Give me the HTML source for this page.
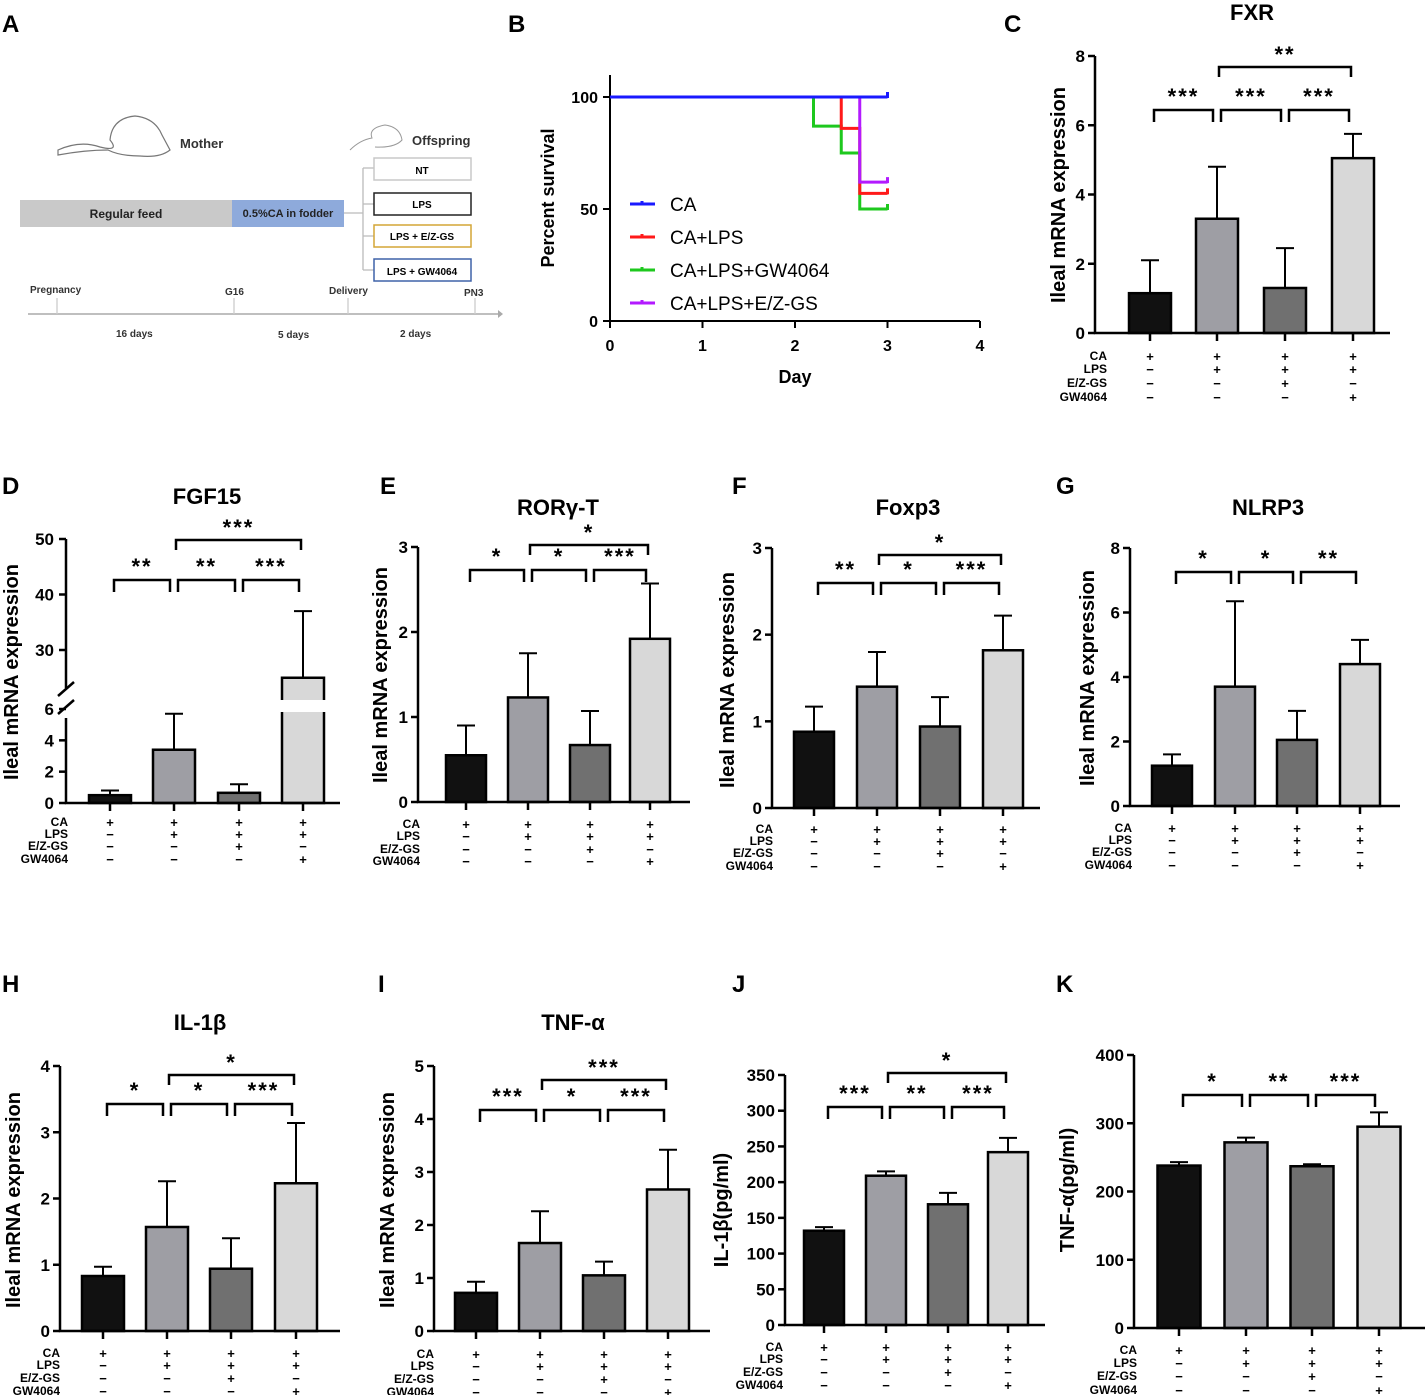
<!DOCTYPE html>
<html><head><meta charset="utf-8"><style>
html,body{margin:0;padding:0;background:#fff}
svg{display:block;font-family:"Liberation Sans",Arial,sans-serif}
</style></head><body>
<svg id="fig" width="1425" height="1395" viewBox="0 0 1425 1395" xmlns="http://www.w3.org/2000/svg">
<g font-weight="bold" font-size="24">
<text x="2" y="32">A</text><text x="508" y="32">B</text><text x="1004" y="32">C</text>
<text x="2" y="494">D</text><text x="380" y="494">E</text><text x="732" y="494">F</text><text x="1056" y="494">G</text>
<text x="2" y="992">H</text><text x="378" y="992">I</text><text x="732" y="992">J</text><text x="1056" y="992">K</text>
</g>
<!-- Panel A schematic -->
<g font-weight="bold">
<path d="M58,150 Q80,140 100,147 Q120,152 110,140 Q112,118 135,116 Q155,118 162,135 L170,150 Q160,158 140,156 Q120,156 108,150 Q85,150 58,155Z" fill="#fff" stroke="#777" stroke-width="1.2"/>
<text x="180" y="148" font-size="13" fill="#333">Mother</text>
<path d="M350,150 Q360,140 372,138 Q368,128 385,125 Q400,127 402,140 Q395,148 375,147" fill="#fff" stroke="#999"/>
<text x="412" y="145" font-size="13" fill="#333">Offspring</text>
<rect x="20" y="200" width="212" height="27" fill="#c9c9c9"/>
<text x="126" y="218" font-size="12" text-anchor="middle" fill="#222">Regular feed</text>
<rect x="232" y="200" width="112" height="27" fill="#8eaadb"/>
<text x="288" y="217" font-size="11" text-anchor="middle" fill="#222">0.5%CA in fodder</text>
<path d="M344,213 H363 M363,168 V270 M363,168 H374 M363,204 H374 M363,236 H374 M363,270 H374" stroke="#bbb" fill="none" stroke-width="1.3"/>
<rect x="374" y="158" width="97" height="22" fill="#fff" stroke="#c8c8c8" stroke-width="1.5"/><text x="422" y="174" font-size="10" text-anchor="middle">NT</text>
<rect x="374" y="193" width="97" height="22" fill="#fff" stroke="#222" stroke-width="1.5"/><text x="422" y="208" font-size="10" text-anchor="middle">LPS</text>
<rect x="374" y="225" width="97" height="22" fill="#fff" stroke="#d4a537" stroke-width="1.5"/><text x="422" y="240" font-size="10" text-anchor="middle">LPS + E/Z-GS</text>
<rect x="374" y="259" width="97" height="22" fill="#fff" stroke="#3f62a8" stroke-width="1.5"/><text x="422" y="275" font-size="10" text-anchor="middle">LPS + GW4064</text>
<path d="M28,314 H498" stroke="#aaa" stroke-width="1.5"/><path d="M498,310 L503,314 L498,318Z" fill="#aaa"/>
<path d="M57,298 V314 M234,298 V314 M348,298 V314 M475,298 V314" stroke="#ccc" stroke-width="1.3"/>
<g font-size="10" fill="#333"><text x="30" y="293">Pregnancy</text><text x="225" y="295">G16</text><text x="329" y="294">Delivery</text><text x="464" y="296">PN3</text>
<text x="116" y="337">16 days</text><text x="278" y="338">5 days</text><text x="400" y="337">2 days</text></g>
</g>
<g id="gB"></g>
<g id="gBars"></g>
</svg>
<script>
const NS="http://www.w3.org/2000/svg";
function el(p,tag,attrs,txt){const e=document.createElementNS(NS,tag);for(const k in attrs)e.setAttribute(k,attrs[k]);if(txt!==undefined)e.textContent=txt;p.appendChild(e);return e;}

// ---- Panel B survival data ----
const survSeries=["CA","CA+LPS","CA+LPS+GW4064","CA+LPS+E/Z-GS"];
const survDaysCA=[0,3];
const survValsCA=[100,100];
const survDaysLPS=[0,2.5,2.7,3];
const survValsLPS=[100,86,57,57];
const survDaysGW=[0,2.2,2.5,2.7,3];
const survValsGW=[100,87,75,50,50];
const survDaysEZ=[0,2.7,3];
const survValsEZ=[100,62,62];
const survColors=["#1a1aff","#ff1a1a","#1ec81e","#b31aff"];
const survXTicks=[0,1,2,3,4];
const survYTicks=[0,50,100];

(function(){
 const g=document.getElementById('gB');
 const X=d=>610+d*92.5, Y=v=>321-v*2.24;
 const ax=el(g,'path',{d:`M610,75 V321 H980`,stroke:'#000','stroke-width':2,fill:'none'});
 
 survXTicks.forEach(t=>{el(g,'path',{d:`M${X(t)},321 V328`,stroke:'#000','stroke-width':2});
  const tx=el(g,'text',{x:X(t),y:351,'font-size':16,'font-weight':'bold','text-anchor':'middle'},String(t));
  });
 survYTicks.forEach(t=>{el(g,'path',{d:`M603,${Y(t)} H610`,stroke:'#000','stroke-width':2});
  const tx=el(g,'text',{x:598,y:Y(t)+6,'font-size':16,'font-weight':'bold','text-anchor':'end'},String(t));
  });
 const xt=el(g,'text',{x:795,y:383,'font-size':18,'font-weight':'bold','text-anchor':'middle'},'Day');
 
 const yt=el(g,'text',{x:0,y:0,'font-size':18,'font-weight':'bold','text-anchor':'middle',transform:'translate(554,198) rotate(-90)'},'Percent survival');
 
 const all=[[survDaysGW,survValsGW],[survDaysLPS,survValsLPS],[survDaysEZ,survValsEZ],[survDaysCA,survValsCA]];
 const cols=[survColors[2],survColors[1],survColors[3],survColors[0]];
 all.forEach((s,i)=>{const [ds,vs]=s;let d=`M${X(ds[0])},${Y(vs[0])}`;
  for(let k=1;k<ds.length;k++){d+=` H${X(ds[k])} V${Y(vs[k])}`;}
  const p=el(g,'path',{d,stroke:cols[i],'stroke-width':3,fill:'none'});
  
  const e=X(ds[ds.length-1]);el(g,'path',{d:`M${e},${Y(vs[vs.length-1])-5} V${Y(vs[vs.length-1])+1}`,stroke:cols[i],'stroke-width':3});
 });
 survSeries.forEach((s,i)=>{const y=204+i*33;
  const lg=el(g,'g',{});
  el(lg,'path',{d:`M630,${y} H655 M642,${y-3} V${y}`,stroke:survColors[i],'stroke-width':3});
  el(lg,'text',{x:670,y:y+7,'font-size':19},s);});
})();

// ---- Bar panels data ----
const groups=["CA+","CA+LPS","CA+LPS+E/Z-GS","CA+LPS+GW4064"];
const rowLabels=["CA","LPS","E/Z-GS","GW4064"];
const signs=[["+","+","+","+"],["−","+","+","+"],["−","−","+","−"],["−","−","−","+"]];
const barColors=["#111111","#9e9ea4","#707070","#d8d8d8"];
const fxrVals=[1.15,3.3,1.3,5.05];   const fxrErr=[2.1,4.8,2.45,5.75];
const fgfVals=[0.5,3.4,0.65,25];     const fgfErr=[0.8,5.7,1.2,37];
const rorVals=[0.55,1.23,0.67,1.92]; const rorErr=[0.9,1.75,1.07,2.57];
const foxVals=[0.88,1.4,0.94,1.82];  const foxErr=[1.17,1.8,1.28,2.22];
const nlrVals=[1.25,3.7,2.05,4.4];   const nlrErr=[1.6,6.35,2.95,5.15];
const il1Vals=[0.83,1.57,0.94,2.23]; const il1Err=[0.97,2.26,1.4,3.14];
const tnfVals=[0.72,1.66,1.05,2.67]; const tnfErr=[0.93,2.26,1.31,3.42];
const il1pVals=[132,209,169,242];    const il1pErr=[137,215,185,262];
const tnfpVals=[238,272,237,295];    const tnfpErr=[243,279,240,316];
const fxrTicks=[0,2,4,6,8]; const fgfTicksLo=[0,2,4,6]; const fgfTicksHi=[30,40,50];
const rorTicks=[0,1,2,3]; const foxTicks=[0,1,2,3]; const nlrTicks=[0,2,4,6,8];
const il1Ticks=[0,1,2,3,4]; const tnfTicks=[0,1,2,3,4,5];
const il1pTicks=[0,50,100,150,200,250,300,350]; const tnfpTicks=[0,100,200,300,400];
const fxrSig=["***","***","***","**"]; const fgfSig=["**","**","***","***"];
const rorSig=["*","*","***","*"]; const foxSig=["**","*","***","*"]; const nlrSig=["*","*","**",""];
const il1Sig=["*","*","***","*"]; const tnfSig=["***","*","***","***"];
const il1pSig=["***","**","***","*"]; const tnfpSig=["*","**","***",""];

// layout configs (geometry only)
const panels=[
 {id:'fxr',title:'FXR',tx:1252,ty:20,ax:1095,y0:333,ytop:56,max:8,ticks:fxrTicks,vals:fxrVals,err:fxrErr,sig:fxrSig,cx:[1150,1217,1285,1353],bw:42,br1:110,br2:67,ylab:'Ileal mRNA expression',ylx:1065,yly:195,rows:[356,369,383,397],rx:1107,axEnd:1390},
 {id:'ror',title:'RORγ-T',tx:558,ty:515,ax:418,y0:802,ytop:547,max:3,ticks:rorTicks,vals:rorVals,err:rorErr,sig:rorSig,cx:[466,528,590,650],bw:40,br1:570,br2:545,ylab:'Ileal mRNA expression',ylx:387,yly:675,rows:[824,836,849,861],rx:420,axEnd:690},
 {id:'fox',title:'Foxp3',tx:908,ty:515,ax:772,y0:808,ytop:548,max:3,ticks:foxTicks,vals:foxVals,err:foxErr,sig:foxSig,cx:[814,877,940,1003],bw:40,br1:583,br2:555,ylab:'Ileal mRNA expression',ylx:734,yly:680,rows:[829,841,853,866],rx:773,axEnd:1040},
 {id:'nlr',title:'NLRP3',tx:1268,ty:515,ax:1130,y0:806,ytop:548,max:8,ticks:nlrTicks,vals:nlrVals,err:nlrErr,sig:nlrSig,cx:[1172,1235,1297,1360],bw:40,br1:572,br2:0,ylab:'Ileal mRNA expression',ylx:1094,yly:678,rows:[828,840,852,865],rx:1132,axEnd:1400},
 {id:'il1',title:'IL-1β',tx:200,ty:1030,ax:60,y0:1331,ytop:1066,max:4,ticks:il1Ticks,vals:il1Vals,err:il1Err,sig:il1Sig,cx:[103,167,231,296],bw:42,br1:1104,br2:1075,ylab:'Ileal mRNA expression',ylx:20,yly:1200,rows:[1353,1365,1378,1391],rx:60,axEnd:340},
 {id:'tnf',title:'TNF-α',tx:573,ty:1030,ax:434,y0:1331,ytop:1066,max:5,ticks:tnfTicks,vals:tnfVals,err:tnfErr,sig:tnfSig,cx:[476,540,604,668],bw:42,br1:1110,br2:1080,ylab:'Ileal mRNA expression',ylx:394,yly:1200,rows:[1354,1366,1379,1392],rx:434,axEnd:710},
 {id:'il1p',title:'',ax:785,y0:1325,ytop:1075,max:350,ticks:il1pTicks,vals:il1pVals,err:il1pErr,sig:il1pSig,cx:[824,886,948,1008],bw:40,br1:1107,br2:1073,ylab:'IL-1β(pg/ml)',ylx:728,yly:1210,rows:[1347,1359,1372,1385],rx:783,axEnd:1045},
 {id:'tnfp',title:'',ax:1134,y0:1328,ytop:1055,max:400,ticks:tnfpTicks,vals:tnfpVals,err:tnfpErr,sig:tnfpSig,cx:[1179,1246,1312,1379],bw:43,br1:1095,br2:0,ylab:'TNF-α(pg/ml)',ylx:1074,yly:1190,rows:[1350,1363,1376,1390],rx:1137,axEnd:1425}
];
const root=document.getElementById('gBars');

function drawBracketSet(g,c,sig,br1,br2){
 const pairs=[[0,1],[1,2],[2,3]];
 pairs.forEach((p,i)=>{if(!sig[i])return;const a=c[p[0]]+4,b=c[p[1]]-4;
  const br=el(g,'path',{d:`M${a},${br1+12} V${br1} H${b} V${br1+12}`,stroke:'#000','stroke-width':2.5,fill:'none'});
  
  const t=el(g,'text',{x:(a+b)/2,y:br1-6,'font-size':22,'font-weight':'bold','text-anchor':'middle','letter-spacing':2},sig[i]);
  });
 if(sig[3]&&br2){const a=c[1]+2,b=c[3]-2;
  const br=el(g,'path',{d:`M${a},${br2+10} V${br2} H${b} V${br2+10}`,stroke:'#000','stroke-width':2.5,fill:'none'});
  
  const t=el(g,'text',{x:(a+b)/2,y:br2-5,'font-size':22,'font-weight':'bold','text-anchor':'middle','letter-spacing':2},sig[3]);
  }
}
function drawRows(g,P){
 rowLabels.forEach((r,ri)=>{
  const t=el(g,'text',{x:P.rx,y:P.rows[ri]+4,'font-size':12,'font-weight':'bold','text-anchor':'end'},r);
  
  P.cx.forEach((x,ci)=>{const s=el(g,'text',{x:x,y:P.rows[ri]+5,'font-size':13,'font-weight':'bold','text-anchor':'middle'},signs[ri][ci]);
   });
 });
}
function drawBar(g,x,w,yTop,yBot,col,errY){
 el(g,'path',{d:`M${x},${errY} V${yTop} M${x-9},${errY} H${x+9}`,stroke:'#000','stroke-width':2});
 const b=el(g,'rect',{x:x-w/2,y:yTop,width:w,height:yBot-yTop,fill:col,stroke:'#000','stroke-width':2.5});
 
 return b;
}
panels.forEach(P=>{
 const g=el(root,'g',{});
 const Y=v=>P.y0-v/P.max*(P.y0-P.ytop);
 P.vals.forEach((v,i)=>drawBar(g,P.cx[i],P.bw,Y(v),P.y0,barColors[i],Y(P.err[i])));
 el(g,'path',{d:`M${P.ax},${P.ytop} V${P.y0} H${P.axEnd}`,stroke:'#000','stroke-width':2.5,fill:'none'});
 P.ticks.forEach(t=>{el(g,'path',{d:`M${P.ax-7},${Y(t)} H${P.ax}`,stroke:'#000','stroke-width':2.5});
  const tx=el(g,'text',{x:P.ax-10,y:Y(t)+6,'font-size':17,'font-weight':'bold','text-anchor':'end'},String(t));
  });
 P.cx.forEach(x=>el(g,'path',{d:`M${x},${P.y0} V${P.y0+8}`,stroke:'#000','stroke-width':2.5}));
 if(P.title){const t=el(g,'text',{x:P.tx,y:P.ty,'font-size':22,'font-weight':'bold','text-anchor':'middle'},P.title);
  }
 const yl=el(g,'text',{x:0,y:0,'font-size':20,'font-weight':'bold','text-anchor':'middle',transform:`translate(${P.ylx},${P.yly}) rotate(-90)`},P.ylab);
 
 drawBracketSet(g,P.cx,P.sig,P.br1,P.br2);
 drawRows(g,P);
});

// FGF15 broken-axis panel
(function(){
 const g=el(root,'g',{});
 const ax=66,y0=803,cx=[110,174,239,303],bw=42;
 const Ylo=v=>y0-v*(803-709)/6;
 const Yhi=v=>650-(v-30)*(650-539)/20;
 const Y=v=>v<=6?Ylo(v):Yhi(v);
 fgfVals.forEach((v,i)=>{
  if(v<=6){drawBar(g,cx[i],bw,Ylo(v),y0,barColors[i],Y(fgfErr[i]));}
  else{drawBar(g,cx[i],bw,Yhi(v),y0,barColors[i],Y(fgfErr[i]));
   el(g,'rect',{x:cx[i]-bw/2-2,y:700,width:bw+4,height:12,fill:'#fff'});
   el(g,'path',{d:`M${cx[i]-bw/2},700 H${cx[i]+bw/2} M${cx[i]-bw/2},712 H${cx[i]+bw/2}`,stroke:'#000','stroke-width':0});}
 });
 el(g,'path',{d:`M${ax},539 V688 M${ax},718 V${y0} H340`,stroke:'#000','stroke-width':2.5,fill:'none'});
 el(g,'path',{d:`M58,696 L74,682 M58,714 L74,700`,stroke:'#000','stroke-width':2.5});
 fgfTicksLo.forEach(t=>{el(g,'path',{d:`M${ax-7},${Ylo(t)} H${ax}`,stroke:'#000','stroke-width':2.5});
  const tx=el(g,'text',{x:ax-12,y:Ylo(t)+6,'font-size':17,'font-weight':'bold','text-anchor':'end'},String(t));
  });
 fgfTicksHi.forEach(t=>{el(g,'path',{d:`M${ax-7},${Yhi(t)} H${ax}`,stroke:'#000','stroke-width':2.5});
  const tx=el(g,'text',{x:ax-12,y:Yhi(t)+6,'font-size':17,'font-weight':'bold','text-anchor':'end'},String(t));
  });
 cx.forEach(x=>el(g,'path',{d:`M${x},${y0} V${y0+8}`,stroke:'#000','stroke-width':2.5}));
 const t=el(g,'text',{x:207,y:504,'font-size':22,'font-weight':'bold','text-anchor':'middle'},'FGF15');
 
 const yl=el(g,'text',{x:0,y:0,'font-size':20,'font-weight':'bold','text-anchor':'middle',transform:'translate(18,672) rotate(-90)'},'Ileal mRNA expression');
 
 drawBracketSet(g,cx,fgfSig,580,540);
 drawRows(g,{rx:68,rows:[822,834,846,859],cx:cx});
})();
</script>
</body></html>
